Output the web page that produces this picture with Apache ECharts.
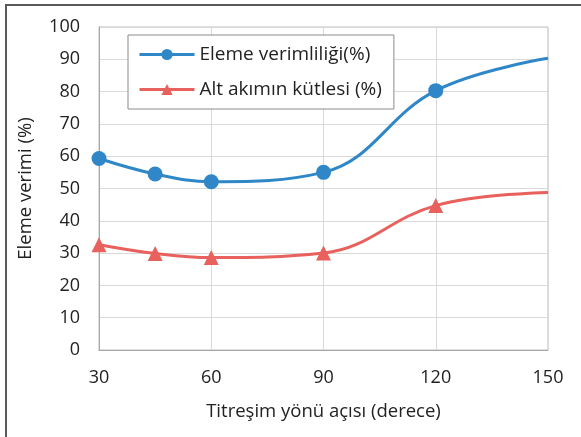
<!DOCTYPE html>
<html><head><meta charset="utf-8">
<script src="https://cdn.jsdelivr.net/npm/echarts@6/dist/echarts.min.js"></script>
<style>html,body{margin:0;padding:0;background:#fff}#c{width:581px;height:437px}</style>
</head><body><div id="c"></div>
<script>
const xValues = [30, 45, 60, 90, 120, 150];
const elemeVerimi = [59.3, 54.5, 52.1, 55.0, 80.3, 90.3];
const altAkim = [32.6, 29.9, 28.6, 30.0, 44.7, 48.8];
const xTicks = [30, 60, 90, 120, 150];
const seriesNames = ['Eleme verimliliği(%)', 'Alt akımın kütlesi (%)'];
const FONT = 'Open Sans';

function build(vals){
  return vals.map((v,i)=> i === vals.length-1 ? {value:[xValues[i], v], symbol:'none'} : [xValues[i], v]);
}
const chart = echarts.init(document.getElementById('c'), null, {renderer:'canvas'});
chart.setOption({
  animation:false,
  textStyle:{fontFamily:FONT},
  graphic:[{type:'rect', shape:{x:6,y:5,width:620,height:480}, style:{fill:'none', stroke:'#5a5a5a', lineWidth:2}, z:-1}],
  grid:{left:99, top:27, right:33, bottom:87, show:true, borderColor:'#bfbfbf', borderWidth:1},
  legend:{
    left:128, top:35, orient:'vertical', backgroundColor:'#fff',
    borderColor:'#8c8c8c', borderWidth:1, padding:[10,12,10,10],
    itemWidth:55, itemHeight:14, itemGap:16,
    lineStyle:{width:3},
    textStyle:{fontFamily:FONT, fontSize:19, color:'#222'},
    data: seriesNames
  },
  xAxis:{
    type:'value', min:30, max:150, interval:30,
    name:'Titreşim yönü açısı (derece)', nameLocation:'middle', nameGap:52,
    nameTextStyle:{fontFamily:FONT, fontSize:18.5, color:'#222'},
    axisLine:{show:true, lineStyle:{color:'#a6a6a6'}}, axisTick:{show:false},
    axisLabel:{fontFamily:FONT, fontSize:18, color:'#222', margin:19,
      formatter:v=> xTicks.includes(v) ? String(v) : ''},
    splitLine:{show:true, lineStyle:{color:'#d9d9d9'}}
  },
  yAxis:{
    type:'value', min:0, max:100, interval:10,
    name:'Eleme verimi (%)', nameLocation:'middle', nameGap:64,
    nameTextStyle:{fontFamily:FONT, fontSize:18.5, color:'#222'},
    axisLine:{show:true, lineStyle:{color:'#a6a6a6'}}, axisTick:{show:false},
    axisLabel:{fontFamily:FONT, fontSize:18, color:'#222', margin:19},
    splitLine:{show:true, lineStyle:{color:'#d9d9d9'}}
  },
  series:[
    {name:seriesNames[0], type:'line', smooth:0.4, data:build(elemeVerimi),
     symbol:'circle', symbolSize:15, lineStyle:{width:3, color:'#2F87C8'}, itemStyle:{color:'#2F87C8'}},
    {name:seriesNames[1], type:'line', smooth:0.4, data:build(altAkim),
     symbol:'triangle', symbolSize:15, lineStyle:{width:3, color:'#E8615D'}, itemStyle:{color:'#E8615D'}}
  ]
});
</script></body></html>
